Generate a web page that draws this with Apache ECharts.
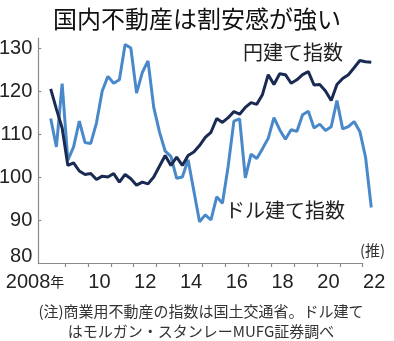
<!DOCTYPE html>
<html><head><meta charset="utf-8">
<script src="https://cdn.jsdelivr.net/npm/echarts@6/dist/echarts.min.js"></script>
<style>html,body{margin:0;padding:0;background:#fff}#c{width:394px;height:341px}</style>
</head><body><div id="c"></div>
<script>
// Quarterly data, 2008 Q2 .. 2022 Q2
const startYear = 2008, startQuarter = 2;
const yenIndex = [120.5,115.8,111.4,102.7,103.3,101.4,100.6,100.8,99.4,100.2,
  100.0,100.8,98.8,100.6,99.6,98.1,98.8,98.4,100.0,102.5,
  105.0,102.7,104.6,102.7,105.0,105.8,107.3,109.2,110.4,113.6,
  112.7,113.8,115.2,114.6,116.2,117.3,116.9,119.2,123.8,121.5,
  124.0,123.8,121.8,122.6,123.8,124.5,121.4,121.5,120.0,117.8,
  121.5,122.9,123.8,125.4,127.1,126.8,126.7];
const dollarIndex = [113.6,107.0,121.7,103.9,107.0,113.0,108.0,107.8,112.6,120.0,
  123.4,121.8,122.6,130.8,130.0,119.5,124.3,127.0,116.2,110.5,
  106.0,104.8,99.7,100.0,104.0,96.8,89.6,91.2,90.0,95.4,
  93.9,102.5,113.0,113.5,99.8,105.3,104.3,106.6,109.0,113.8,
  111.0,108.8,111.0,110.6,114.5,115.3,111.4,112.3,110.8,111.7,
  117.8,111.2,111.7,112.9,110.6,104.6,92.9];
const yTicks = [80, 90, 100, 110, 120, 130];
const xTickYears = [2009,2010,2011,2012,2013,2014,2015,2016,2017,2018,2019,2020,2021,2022];
const xLabelYears = [2008,2010,2012,2014,2016,2018,2020,2022];
const seriesNames = ['円建て指数', 'ドル建て指数'];

function quarterPos(i) {
  return startYear + (startQuarter - 1) * 0.25 + 0.125 + i * 0.25;
}
const yenData = yenIndex.map((v, i) => [quarterPos(i), v]);
const dollarData = dollarIndex.map((v, i) => [quarterPos(i), v]);

const NUM_FONT = "'Liberation Sans', sans-serif";
const JP_FONT = "'Noto Sans CJK JP', sans-serif";
const AXIS_COLOR = '#8a8a8a';

const chart = echarts.init(document.getElementById('c'), null, {renderer: 'canvas'});
chart.setOption({
  animation: false,
  backgroundColor: '#fff',
  title: [{
    text: '国内不動産は割安感が強い',
    left: 'center', top: 2,
    textStyle: {fontFamily: JP_FONT, fontSize: 24, fontWeight: 'normal', color: '#111'}
  }, {
    text: '(注)商業用不動産の指数は国土交通省。ドル建て\nはモルガン・スタンレーMUFG証券調べ',
    left: 196, top: 296, textAlign: 'center',
    textStyle: {fontFamily: JP_FONT, fontSize: 15, fontWeight: 'normal', color: '#333', lineHeight: 20, align: 'center'}
  }],
  grid: [
    {left: 38.3, right: 21, top: 38, bottom: 78, outerBoundsMode: 'none', containLabel: false},
    {left: 38.3, right: 31.3, top: 38, bottom: 78, outerBoundsMode: 'none', containLabel: false}
  ],
  xAxis: [{
    gridIndex: 0, type: 'value', min: 2007.834, max: 2022.45,
    axisLine: {show: false},
    axisTick: {show: true, customValues: xTickYears, length: 4, inside: false, lineStyle: {color: AXIS_COLOR, width: 1.2}},
    splitLine: {show: false},
    axisLabel: {
      customValues: xLabelYears, margin: 9,
      formatter: function (v) {
        if (v === 2008) return '{n|2008}{y|年}';
        return '{s|' + String(v % 100).padStart(2, '0') + '}';
      },
      rich: {
        n: {fontFamily: NUM_FONT, fontSize: 20, color: '#222'},
        y: {fontFamily: JP_FONT, fontSize: 14, color: '#222', padding: [0, 14, 0, 0]},
        s: {fontFamily: NUM_FONT, fontSize: 20, color: '#222', padding: [0, 0, 0, 23]}
      }
    }
  }, {
    gridIndex: 1, type: 'value', min: 0, max: 1,
    axisLine: {show: true, lineStyle: {color: AXIS_COLOR, width: 1.2}},
    axisTick: {show: false}, axisLabel: {show: false}, splitLine: {show: false}
  }],
  yAxis: [{
    gridIndex: 0, type: 'value', min: 80, max: 132.33,
    axisLine: {show: true, lineStyle: {color: AXIS_COLOR, width: 1.2}},
    axisTick: {show: true, customValues: yTicks, inside: true, length: 3, lineStyle: {color: AXIS_COLOR, width: 1.2}},
    splitLine: {show: false},
    axisLabel: {
      customValues: yTicks, margin: 6,
      formatter: function (v) { return v === 80 ? '{b|80}' : '{a|' + v + '}'; },
      rich: {
        a: {fontFamily: NUM_FONT, fontSize: 20, color: '#222'},
        b: {fontFamily: NUM_FONT, fontSize: 20, color: '#222', padding: [0, 0, 14, 0]}
      }
    }
  }, {
    gridIndex: 1, type: 'value', min: 0, max: 1, show: false
  }],
  series: [{
    name: seriesNames[1], type: 'line', data: dollarData, showSymbol: false,
    xAxisIndex: 0, yAxisIndex: 0,
    lineStyle: {color: '#4a89c9', width: 3}, z: 2
  }, {
    name: seriesNames[0], type: 'line', data: yenData, showSymbol: false,
    xAxisIndex: 0, yAxisIndex: 0,
    lineStyle: {color: '#1b2a52', width: 3}, z: 3
  }],
  graphic: [{
    type: 'text', left: 243, top: 42,
    style: {text: seriesNames[0], font: "20px 'Noto Sans CJK JP', sans-serif", fill: '#222'}
  }, {
    type: 'text', left: 225, top: 200,
    style: {text: seriesNames[1], font: "20px 'Noto Sans CJK JP', sans-serif", fill: '#222'}
  }, {
    type: 'text', left: 360, top: 243,
    style: {text: '(推)', font: "15px 'Noto Sans CJK JP', sans-serif", fill: '#333'}
  }]
});
</script>
</body></html>
